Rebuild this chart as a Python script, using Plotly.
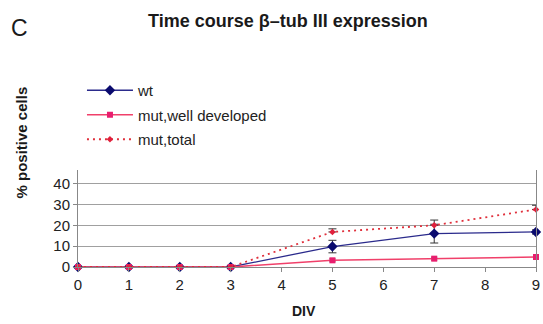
import plotly.graph_objects as go

div = [0, 1, 2, 3, 5, 7, 9]
wt = [0, 0, 0, 0, 9.8, 16, 16.8]
wt_err = [0, 0, 0, 0, 3, 4.5, 1]
mut_well = [0, 0, 0, 0, 3.2, 4, 4.8]
mut_well_err = [0, 0, 0, 0, 0.7, 0.7, 0.5]
mut_total = [0, 0, 0, 0, 16.8, 20, 27.6]
mut_total_err = [0, 0, 0, 0, 1.5, 2.5, 2]
x_ticks = list(range(0, 10))
y_ticks = [0, 10, 20, 30, 40]

W, H = 543, 324
l, r, t, b = 78, 3, 170, 57
pw, ph = W - l - r, H - t - b

def px2paper(px, py):
    return (px - l) / pw, (H - b - py) / ph

fig = go.Figure()
fig.add_trace(go.Scatter(
    x=div, y=wt, name="wt", mode="lines+markers", legendgroup="a",
    line=dict(color="#2B2B8C", width=1.3),
    marker=dict(symbol="diamond", size=8, color="#0A0A6E"),
    error_y=dict(type="data", array=wt_err, visible=True, color="#333333", thickness=1, width=4),
    cliponaxis=False,
))
fig.add_trace(go.Scatter(
    x=div, y=mut_well, name="mut,well developed", mode="lines+markers", legendgroup="b",
    line=dict(color="#F0406A", width=1.5),
    marker=dict(symbol="square", size=6, color="#E81E6E"),
    error_y=dict(type="data", array=mut_well_err, visible=True, color="#444444", thickness=1, width=3),
    cliponaxis=False,
))
fig.add_trace(go.Scatter(
    x=div, y=mut_total, name="mut,total", mode="lines+markers", legendgroup="c",
    line=dict(color="#E0303C", width=1.8, dash="2px,4px"),
    marker=dict(symbol="diamond", size=5, color="#E0203C"),
    error_y=dict(type="data", symmetric=False, array=mut_total_err,
                 arrayminus=[0] * len(mut_total_err), visible=True,
                 color="#333333", thickness=1, width=4),
    cliponaxis=False,
))

def ann(text, px, py, size, angle=0):
    x, y = px2paper(px, py)
    return dict(text=text, x=x, y=y, xref="paper", yref="paper", showarrow=False,
                xanchor="center", yanchor="middle", textangle=angle,
                font=dict(size=size, color="#1A1A1A"))

lx, ly = px2paper(82, 74)
fig.update_layout(
    width=W, height=H,
    margin=dict(l=l, r=r, t=t, b=b),
    paper_bgcolor="white", plot_bgcolor="white",
    font=dict(family="Liberation Sans, Arial, sans-serif", color="#222222"),
    showlegend=True,
    legend=dict(x=lx, y=ly, xanchor="left", yanchor="top",
                font=dict(size=15, color="#222222"), bgcolor="rgba(0,0,0,0)",
                tracegroupgap=2, itemwidth=46),
    annotations=[
        ann("<b>Time course β–tub III expression</b>", 290, 21, 18),
        ann("C", 19, 28, 23),
        ann("<b>% positive cells</b>", 21, 142, 15, -90),
        ann("<b>DIV</b>", 306, 311, 14),
    ],
)

fig.update_xaxes(range=[0, 9], tickvals=x_ticks, showgrid=False, zeroline=False,
                 showline=True, linecolor="#888888", linewidth=1,
                 ticks="outside", ticklen=4, tickcolor="#888888",
                 ticklabeloverflow="allow",
                 tickfont=dict(size=15, color="#222222"))
fig.update_yaxes(range=[0, 46.5], tickvals=y_ticks, showgrid=True, gridcolor="#A0A0A0",
                 gridwidth=1, zeroline=False, showline=True, linecolor="#888888",
                 linewidth=1, mirror=True, ticks="outside", ticklen=4, tickcolor="#888888",
                 tickfont=dict(size=15, color="#222222"))

fig.write_html("out.html", config={"displayModeBar": False},
               post_script="document.body.style.margin='0';document.body.style.padding='0';")
